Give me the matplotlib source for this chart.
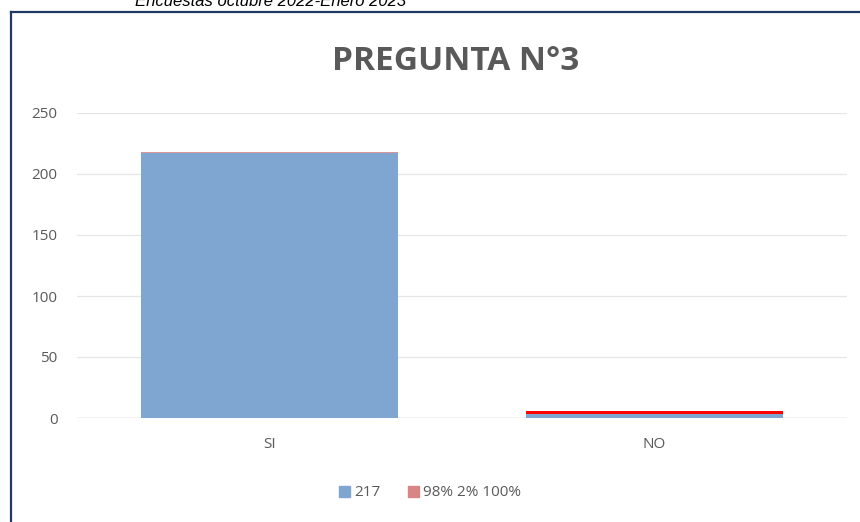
import matplotlib
matplotlib.use("Agg")
import matplotlib.pyplot as plt
from matplotlib.lines import Line2D

categories = ["SI", "NO"]
series_main = [217, 3]          # legend "217"
series_top = [1.2, 3]           # legend "98% 2% 100%"
top_colours = ["#d99694", "#ff0000"]
legend_labels = ["217", "98% 2% 100%"]
yticks = [0, 50, 100, 150, 200, 250]

BLUE = "#7fa6d0"
PINK = "#d98585"
GREY = "#595959"
NAVY = "#1f3864"

plt.rcParams['font.family'] = ['Open Sans', 'DejaVu Sans']

fig = plt.figure(figsize=(8.6, 5.22), dpi=100)
ax = fig.add_axes([77 / 860, 1 - 418 / 522, 770 / 860, 305 / 522])

x = range(len(categories))
ax.bar(x, series_main, width=0.67, color=BLUE, label=legend_labels[0], zorder=2)
ax.bar(x, series_top, width=0.67, bottom=series_main, color=top_colours, zorder=3)

ax.set_xlim(-0.5, len(categories) - 0.5)
ax.set_ylim(0, 250)
ax.set_yticks(yticks)
ax.set_xticks(list(x))
ax.set_xticklabels(categories)
ax.grid(axis="y", color="#e6e6e6", linewidth=0.9, zorder=0)
ax.axhline(0, color="#d0d0d0", linewidth=1.0, zorder=1)
for s in ax.spines.values():
    s.set_visible(False)
ax.tick_params(length=0, colors=GREY, labelsize=11)
ax.tick_params(axis="x", pad=14)
ax.tick_params(axis="y", pad=14)

fig.text(456 / 860, 1 - 61 / 522, "PREGUNTA N°3", ha="center", va="center",
         fontsize=24, fontweight="bold", color=GREY)

fig.text(135 / 860, 1 - 2 / 522, "Encuestas octubre 2022-Enero 2023", ha="left",
         va="center", fontsize=12, style="italic", family="Liberation Sans", color="black")

# outer frame
fig.add_artist(Line2D([11 / 860, 1], [1 - 12 / 522, 1 - 12 / 522], color=NAVY, linewidth=1.6,
                      transform=fig.transFigure))
fig.add_artist(Line2D([11 / 860, 11 / 860], [0, 1 - 12 / 522], color=NAVY, linewidth=1.6,
                      transform=fig.transFigure))

handles = [plt.Rectangle((0, 0), 1, 1, color=BLUE), plt.Rectangle((0, 0), 1, 1, color=PINK)]
fig.legend(handles, legend_labels, loc="center", bbox_to_anchor=(0.5, 1 - 493 / 522),
           ncol=2, frameon=False, fontsize=11, labelcolor=GREY, handlelength=0.7,
           handleheight=0.7, handletextpad=0.3, columnspacing=1.8)

fig.savefig("out.png", dpi=100, facecolor="white")
